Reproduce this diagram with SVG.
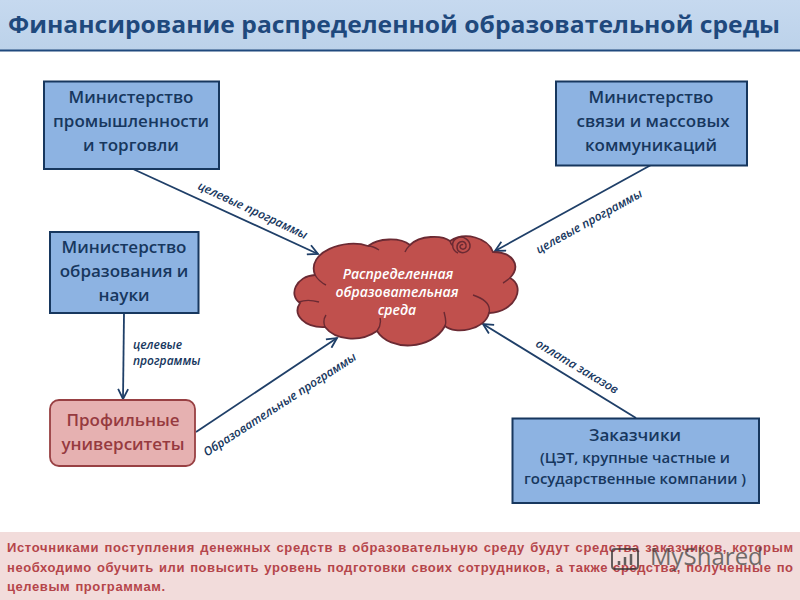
<svg xmlns="http://www.w3.org/2000/svg" width="800" height="600" viewBox="0 0 800 600">
<style>
.n{font-family:"Open Sans","Liberation Sans",sans-serif;font-weight:600;font-size:17px;fill:#17375e;text-anchor:middle}
.box{fill:#8db3e2;stroke:#17375e;stroke-width:2}
.lab{font-family:"Open Sans","Liberation Sans",sans-serif;font-weight:600;font-style:italic;font-size:12px;fill:#17375e;text-anchor:middle}
.c{fill:none;stroke:#1f3f68;stroke-width:1.8;marker-end:url(#a)}
.b{font-family:"Liberation Sans",sans-serif;font-weight:700;font-size:13px;fill:#b5454a;word-spacing:1px}
.w{font-family:"Open Sans","Liberation Sans",sans-serif;font-weight:600;font-style:italic;font-size:14px;fill:#fff;text-anchor:middle}
.s{font-size:15px}
</style>
<defs>
<marker id="a" markerWidth="14" markerHeight="12" refX="11" refY="6" orient="auto" markerUnits="userSpaceOnUse"><path d="M1 1L11 6L1 11" fill="none" stroke="#1f3f68" stroke-width="1.8"/></marker>
<linearGradient id="t" x1="0" y1="0" x2="0" y2="1"><stop offset="0" stop-color="#c6d9ef"/><stop offset="1" stop-color="#bcd2ea"/></linearGradient>
</defs>
<rect width="800" height="600" fill="#fff"/>
<g id="title">
<rect x="0" y="0" width="800" height="50" fill="url(#t)"/>
<line x1="0" y1="50.500" x2="800" y2="50.500" stroke="#1f497d" stroke-width="2"/>
<text x="8" y="33" font-family="'Open Sans','Liberation Sans',sans-serif" font-weight="700" font-size="23" fill="#1f497d" textLength="772" lengthAdjust="spacingAndGlyphs">Финансирование распределенной образовательной среды</text>
</g>
<g id="connectors">
<path class="c" d="M133 169L318 254"/>
<path class="c" d="M651 165L495 251"/>
<path class="c" d="M124 313L123 399"/>
<path class="c" d="M196 432L337 338"/>
<path class="c" d="M636 418L483 324"/>
<text class="lab" transform="translate(251 214) rotate(25)">целевые программы</text>
<text class="lab" transform="translate(591 225) rotate(-29)">целевые программы</text>
<text class="lab" transform="translate(282 408) rotate(-33)">Образовательные программы</text>
<text class="lab" transform="translate(575 370) rotate(31)">оплата заказов</text>
<text class="lab" x="133" y="349" style="text-anchor:start">целевые</text>
<text class="lab" x="133" y="365" style="text-anchor:start">программы</text>
</g>
<g id="node-industry">
<rect class="box" x="44" y="81.500" width="175" height="87.500"/>
<text class="n" x="131" y="103">Министерство</text>
<text class="n" x="131" y="127">промышленности</text>
<text class="n" x="131" y="151">и торговли</text>
</g>
<g id="node-comm">
<rect class="box" x="556" y="81.500" width="191" height="84"/>
<text class="n" x="651" y="103">Министерство</text>
<text class="n" x="653" y="127">связи и массовых</text>
<text class="n" x="651" y="151">коммуникаций</text>
</g>
<g id="node-edu">
<rect class="box" x="50" y="232" width="148.500" height="81"/>
<text class="n" x="124" y="253">Министерство</text>
<text class="n" x="124" y="277">образования и</text>
<text class="n" x="124" y="301">науки</text>
</g>
<g id="node-univ">
<rect x="50" y="400" width="145" height="66" rx="9" fill="#e6b1b1" stroke="#984043" stroke-width="1.800"/>
<text class="n" x="123" y="426" style="fill:#963a3f">Профильные</text>
<text class="n" x="123" y="450" style="fill:#963a3f">университеты</text>
</g>
<g id="node-customers">
<rect class="box" x="512.500" y="418.500" width="246.500" height="84.500"/>
<text class="n" x="635" y="441">Заказчики</text>
<text class="n s" x="635" y="463">(ЦЭТ, крупные частные и</text>
<text class="n s" x="635" y="484">государственные компании )</text>
</g>
<g id="node-cloud">
<path d="M315 275C306 252 345 238 368 246C378 238 400 237 410 245C420 235 442 235 450 241C465 231 488 238 493 252C512 252 522 265 510 278C526 286 516 312 489 313C485 330 455 335 445 326C432 350 390 352 377 331C360 343 335 340 325 327C305 328 292 315 300 303C288 295 296 276 315 275Z" fill="#c0504d" stroke="#6b2a33" stroke-width="1.800"/>
<path d="M315 275C318 280 322 283 326 285M299 302C304 300 312 300 319 302M325 327C323 322 324 318 326 315M377 331C380 327 381 322 380 318M445 326C447 322 445 316 444 312M489 313C491 305 485 299 473 295M510 278C506 281 505 282 503 283M368 246C373 246 376 248 379 250M410 245C408 247 406 249 405 252M450 241C450 243 452 245 453 246" fill="none" stroke="#6b2a33" stroke-width="1.400"/>
<path d="M458 253C451 250 451 241 457 238C463 235 470 240 470 246C470 251 464 254 460 252C456 250 456 244 460 242C464 240 467 244 466 247C465 250 461 250 460 247C460 245 462 244 463 245" fill="none" stroke="#6b2a33" stroke-width="1.500"/>
<text class="w" x="398" y="279">Распределенная</text>
<text class="w" x="397" y="297">образовательная</text>
<text class="w" x="397" y="315">среда</text>
</g>
<g id="note">
<rect x="0" y="532" width="800" height="68" fill="#f2dcdb"/>
<text class="b" x="7" y="552" textLength="786" lengthAdjust="spacing">Источниками поступления денежных средств в образовательную среду будут средства заказчиков, которым</text>
<text class="b" x="7" y="572" textLength="786" lengthAdjust="spacing">необходимо обучить или повысить уровень подготовки своих сотрудников, а также средства, полученные по</text>
<text class="b" x="7" y="591" textLength="158" lengthAdjust="spacing">целевым программам.</text>
</g>
<g id="watermark" opacity="0.75">
<rect x="612" y="549" width="26" height="20" rx="3" fill="none" stroke="#333" stroke-width="2"/>
<path d="M619 565v-4M625 565v-8M631 565v-11" stroke="#333" stroke-width="2.500"/>
<text x="650" y="565" font-family="'Open Sans','Liberation Sans',sans-serif" font-size="24" fill="#444">MyShared</text>
</g>
</svg>
